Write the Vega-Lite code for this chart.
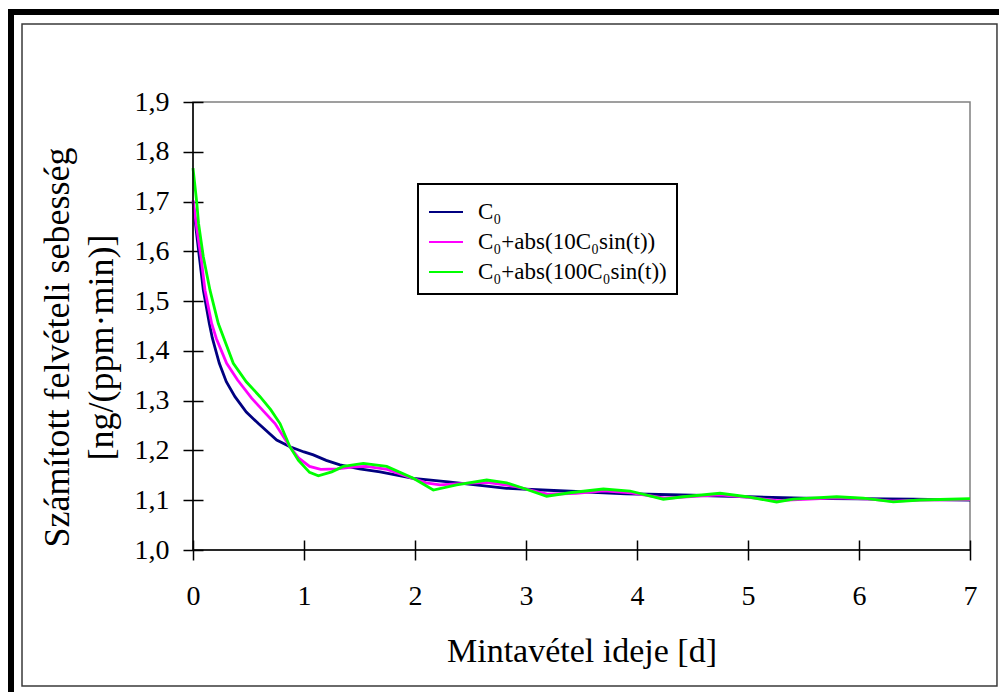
{
  "$schema": "https://vega.github.io/schema/vega-lite/v6.json",
  "width": 777,
  "height": 448,
  "autosize": "none",
  "padding": {"left": 193, "top": 102, "right": 29, "bottom": 142},
  "background": "white",
  "config": {
    "font": "Liberation Serif",
    "view": {"stroke": "#808080", "strokeWidth": 1.5},
    "axis": {"labelFont": "Liberation Serif", "titleFont": "Liberation Serif"},
    "legend": {"labelFont": "Liberation Serif"}
  },
  "datasets": {
    "curves": [
      {"s": "C₀", "t": 0, "v": 1.700},
      {"s": "C₀", "t": 0.03, "v": 1.640},
      {"s": "C₀", "t": 0.057, "v": 1.589},
      {"s": "C₀", "t": 0.093, "v": 1.522},
      {"s": "C₀", "t": 0.147, "v": 1.455},
      {"s": "C₀", "t": 0.174, "v": 1.426},
      {"s": "C₀", "t": 0.237, "v": 1.375},
      {"s": "C₀", "t": 0.3, "v": 1.338},
      {"s": "C₀", "t": 0.378, "v": 1.308},
      {"s": "C₀", "t": 0.48, "v": 1.277},
      {"s": "C₀", "t": 0.589, "v": 1.254},
      {"s": "C₀", "t": 0.754, "v": 1.221},
      {"s": "C₀", "t": 0.874, "v": 1.2075},
      {"s": "C₀", "t": 1.0, "v": 1.197},
      {"s": "C₀", "t": 1.084, "v": 1.191},
      {"s": "C₀", "t": 1.2, "v": 1.180},
      {"s": "C₀", "t": 1.324, "v": 1.171},
      {"s": "C₀", "t": 1.5, "v": 1.163},
      {"s": "C₀", "t": 1.685, "v": 1.157},
      {"s": "C₀", "t": 1.985, "v": 1.144},
      {"s": "C₀", "t": 2.3, "v": 1.137},
      {"s": "C₀", "t": 2.586, "v": 1.130},
      {"s": "C₀", "t": 2.826, "v": 1.124},
      {"s": "C₀", "t": 3.1, "v": 1.121},
      {"s": "C₀", "t": 3.5, "v": 1.117},
      {"s": "C₀", "t": 3.9, "v": 1.113},
      {"s": "C₀", "t": 4.5, "v": 1.110},
      {"s": "C₀", "t": 5.0, "v": 1.107},
      {"s": "C₀", "t": 5.5, "v": 1.104},
      {"s": "C₀", "t": 6.0, "v": 1.103},
      {"s": "C₀", "t": 6.5, "v": 1.102},
      {"s": "C₀", "t": 7.0, "v": 1.100},

      {"s": "C₀+abs(10C₀sin(t))", "t": 0, "v": 1.703},
      {"s": "C₀+abs(10C₀sin(t))", "t": 0.035, "v": 1.645},
      {"s": "C₀+abs(10C₀sin(t))", "t": 0.072, "v": 1.589},
      {"s": "C₀+abs(10C₀sin(t))", "t": 0.108, "v": 1.522},
      {"s": "C₀+abs(10C₀sin(t))", "t": 0.168, "v": 1.455},
      {"s": "C₀+abs(10C₀sin(t))", "t": 0.21, "v": 1.425},
      {"s": "C₀+abs(10C₀sin(t))", "t": 0.303, "v": 1.375},
      {"s": "C₀+abs(10C₀sin(t))", "t": 0.4, "v": 1.342},
      {"s": "C₀+abs(10C₀sin(t))", "t": 0.528, "v": 1.305},
      {"s": "C₀+abs(10C₀sin(t))", "t": 0.639, "v": 1.278},
      {"s": "C₀+abs(10C₀sin(t))", "t": 0.739, "v": 1.254},
      {"s": "C₀+abs(10C₀sin(t))", "t": 0.874, "v": 1.207},
      {"s": "C₀+abs(10C₀sin(t))", "t": 0.95, "v": 1.185},
      {"s": "C₀+abs(10C₀sin(t))", "t": 1.05, "v": 1.168},
      {"s": "C₀+abs(10C₀sin(t))", "t": 1.15, "v": 1.162},
      {"s": "C₀+abs(10C₀sin(t))", "t": 1.3, "v": 1.163},
      {"s": "C₀+abs(10C₀sin(t))", "t": 1.45, "v": 1.167},
      {"s": "C₀+abs(10C₀sin(t))", "t": 1.56, "v": 1.168},
      {"s": "C₀+abs(10C₀sin(t))", "t": 1.75, "v": 1.162},
      {"s": "C₀+abs(10C₀sin(t))", "t": 1.98, "v": 1.144},
      {"s": "C₀+abs(10C₀sin(t))", "t": 2.1, "v": 1.135},
      {"s": "C₀+abs(10C₀sin(t))", "t": 2.225, "v": 1.131},
      {"s": "C₀+abs(10C₀sin(t))", "t": 2.45, "v": 1.134},
      {"s": "C₀+abs(10C₀sin(t))", "t": 2.65, "v": 1.136},
      {"s": "C₀+abs(10C₀sin(t))", "t": 2.9, "v": 1.128},
      {"s": "C₀+abs(10C₀sin(t))", "t": 3.2, "v": 1.112},
      {"s": "C₀+abs(10C₀sin(t))", "t": 3.45, "v": 1.114},
      {"s": "C₀+abs(10C₀sin(t))", "t": 3.7, "v": 1.119},
      {"s": "C₀+abs(10C₀sin(t))", "t": 3.95, "v": 1.115},
      {"s": "C₀+abs(10C₀sin(t))", "t": 4.25, "v": 1.104},
      {"s": "C₀+abs(10C₀sin(t))", "t": 4.45, "v": 1.107},
      {"s": "C₀+abs(10C₀sin(t))", "t": 4.75, "v": 1.111},
      {"s": "C₀+abs(10C₀sin(t))", "t": 5.0, "v": 1.106},
      {"s": "C₀+abs(10C₀sin(t))", "t": 5.26, "v": 1.099},
      {"s": "C₀+abs(10C₀sin(t))", "t": 5.45, "v": 1.101},
      {"s": "C₀+abs(10C₀sin(t))", "t": 5.8, "v": 1.105},
      {"s": "C₀+abs(10C₀sin(t))", "t": 6.05, "v": 1.103},
      {"s": "C₀+abs(10C₀sin(t))", "t": 6.3, "v": 1.098},
      {"s": "C₀+abs(10C₀sin(t))", "t": 6.55, "v": 1.100},
      {"s": "C₀+abs(10C₀sin(t))", "t": 7.0, "v": 1.101},

      {"s": "C₀+abs(100C₀sin(t))", "t": 0, "v": 1.767},
      {"s": "C₀+abs(100C₀sin(t))", "t": 0.033, "v": 1.700},
      {"s": "C₀+abs(100C₀sin(t))", "t": 0.05, "v": 1.656},
      {"s": "C₀+abs(100C₀sin(t))", "t": 0.093, "v": 1.589},
      {"s": "C₀+abs(100C₀sin(t))", "t": 0.153, "v": 1.522},
      {"s": "C₀+abs(100C₀sin(t))", "t": 0.228, "v": 1.455},
      {"s": "C₀+abs(100C₀sin(t))", "t": 0.363, "v": 1.375},
      {"s": "C₀+abs(100C₀sin(t))", "t": 0.48, "v": 1.338},
      {"s": "C₀+abs(100C₀sin(t))", "t": 0.604, "v": 1.308},
      {"s": "C₀+abs(100C₀sin(t))", "t": 0.7, "v": 1.282},
      {"s": "C₀+abs(100C₀sin(t))", "t": 0.784, "v": 1.254},
      {"s": "C₀+abs(100C₀sin(t))", "t": 0.874, "v": 1.207},
      {"s": "C₀+abs(100C₀sin(t))", "t": 0.95, "v": 1.180},
      {"s": "C₀+abs(100C₀sin(t))", "t": 1.05, "v": 1.156},
      {"s": "C₀+abs(100C₀sin(t))", "t": 1.129, "v": 1.149},
      {"s": "C₀+abs(100C₀sin(t))", "t": 1.25, "v": 1.157},
      {"s": "C₀+abs(100C₀sin(t))", "t": 1.354, "v": 1.168},
      {"s": "C₀+abs(100C₀sin(t))", "t": 1.535, "v": 1.174},
      {"s": "C₀+abs(100C₀sin(t))", "t": 1.745, "v": 1.168},
      {"s": "C₀+abs(100C₀sin(t))", "t": 1.985, "v": 1.144},
      {"s": "C₀+abs(100C₀sin(t))", "t": 2.165, "v": 1.1205},
      {"s": "C₀+abs(100C₀sin(t))", "t": 2.375, "v": 1.131},
      {"s": "C₀+abs(100C₀sin(t))", "t": 2.646, "v": 1.1406},
      {"s": "C₀+abs(100C₀sin(t))", "t": 2.826, "v": 1.135},
      {"s": "C₀+abs(100C₀sin(t))", "t": 2.976, "v": 1.124},
      {"s": "C₀+abs(100C₀sin(t))", "t": 3.186, "v": 1.108},
      {"s": "C₀+abs(100C₀sin(t))", "t": 3.396, "v": 1.115},
      {"s": "C₀+abs(100C₀sin(t))", "t": 3.697, "v": 1.1225},
      {"s": "C₀+abs(100C₀sin(t))", "t": 3.937, "v": 1.1185},
      {"s": "C₀+abs(100C₀sin(t))", "t": 4.237, "v": 1.102},
      {"s": "C₀+abs(100C₀sin(t))", "t": 4.417, "v": 1.107},
      {"s": "C₀+abs(100C₀sin(t))", "t": 4.748, "v": 1.114},
      {"s": "C₀+abs(100C₀sin(t))", "t": 4.988, "v": 1.107},
      {"s": "C₀+abs(100C₀sin(t))", "t": 5.258, "v": 1.0965},
      {"s": "C₀+abs(100C₀sin(t))", "t": 5.408, "v": 1.102},
      {"s": "C₀+abs(100C₀sin(t))", "t": 5.799, "v": 1.107},
      {"s": "C₀+abs(100C₀sin(t))", "t": 6.039, "v": 1.104},
      {"s": "C₀+abs(100C₀sin(t))", "t": 6.309, "v": 1.0965},
      {"s": "C₀+abs(100C₀sin(t))", "t": 6.55, "v": 1.1004},
      {"s": "C₀+abs(100C₀sin(t))", "t": 7.0, "v": 1.103}
    ]
  },
  "layer": [
    {
      "data": {"values": [{}]},
      "mark": {"type": "rect", "fill": "white", "fillOpacity": 0, "stroke": "black", "strokeWidth": 6, "clip": false},
      "encoding": {
        "x": {"datum": -1.6396, "type": "quantitative"},
        "x2": {"datum": 7.32},
        "y": {"datum": 2.0808, "type": "quantitative"},
        "y2": {"datum": 0.698}
      }
    },
    {
      "data": {"values": [{}]},
      "mark": {"type": "rect", "fill": "white", "fillOpacity": 0, "stroke": "#3a3a3a", "strokeWidth": 1.5, "clip": false},
      "encoding": {
        "x": {"datum": -1.5405, "type": "quantitative"},
        "x2": {"datum": 7.243},
        "y": {"datum": 2.0567, "type": "quantitative"},
        "y2": {"datum": 0.7268}
      }
    },
    {
      "data": {"name": "curves"},
      "mark": {"type": "line", "strokeWidth": 2.8, "interpolate": "linear"},
      "encoding": {
        "x": {
          "field": "t", "type": "quantitative",
          "scale": {"domain": [0, 7], "nice": false, "zero": false},
          "axis": {
            "values": [0, 1, 2, 3, 4, 5, 6, 7], "format": "d",
            "offset": -10, "tickSize": 20, "domain": false, "grid": false,
            "tickColor": "black", "tickWidth": 1.5,
            "labelFont": "Liberation Serif", "labelFontSize": 28, "labelColor": "black", "labelPadding": 22, "labelFlush": false,
            "title": "Mintavétel ideje [d]", "titleFont": "Liberation Serif", "titleFontSize": 34, "titleFontWeight": "normal",
            "titleColor": "black", "titlePadding": 24
          }
        },
        "y": {
          "field": "v", "type": "quantitative",
          "scale": {"domain": [1.0, 1.9], "nice": false, "zero": false},
          "axis": {
            "values": [1.0, 1.1, 1.2, 1.3, 1.4, 1.5, 1.6, 1.7, 1.8, 1.9],
            "labelExpr": "replace(format(datum.value, '.1f'), '.', ',')",
            "offset": -10, "tickSize": 20, "domain": false, "grid": false,
            "tickColor": "black", "tickWidth": 1.5,
            "labelFont": "Liberation Serif", "labelFontSize": 28, "labelColor": "black", "labelPadding": 14,
            "title": ["Számított felvételi sebesség", "[ng/(ppm·min)]"],
            "titleFont": "Liberation Serif", "titleFontSize": 36, "titleFontWeight": "normal", "titleColor": "black",
            "titleLineHeight": 44, "titlePadding": 14, "titleY": 245
          }
        },
        "color": {
          "field": "s", "type": "nominal",
          "scale": {
            "domain": ["C₀", "C₀+abs(10C₀sin(t))", "C₀+abs(100C₀sin(t))"],
            "range": ["#000080", "#FF00FF", "#00FF00"]
          },
          "legend": {
            "orient": "none", "legendX": 225, "legendY": 82,
            "title": null, "strokeColor": "black", "fillColor": "white",
            "padding": 10, "symbolType": "stroke", "symbolSize": 1156, "symbolStrokeWidth": 2,
            "labelFont": "Liberation Serif", "labelFontSize": 23, "labelColor": "black", "labelOffset": 14,
            "labelLimit": 400, "rowPadding": 0,
            "encode": {"legend": {"update": {"strokeWidth": {"value": 2}}}}
          }
        }
      }
    },
    {
      "data": {"values": [{}]},
      "mark": {"type": "rule", "color": "black", "strokeWidth": 1.5},
      "encoding": {
        "x": {"datum": 0, "type": "quantitative"},
        "y": {"datum": 1.0, "type": "quantitative"},
        "y2": {"datum": 1.9}
      }
    },
    {
      "data": {"values": [{}]},
      "mark": {"type": "rule", "color": "black", "strokeWidth": 1.5},
      "encoding": {
        "x": {"datum": 0, "type": "quantitative"},
        "x2": {"datum": 7},
        "y": {"datum": 1.0, "type": "quantitative"}
      }
    }
  ]
}
